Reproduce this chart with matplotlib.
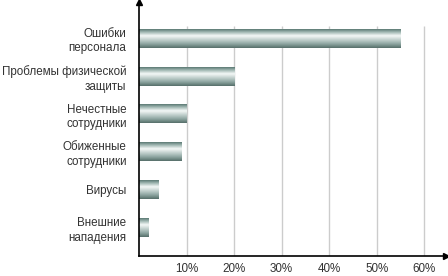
import numpy as np
import matplotlib
matplotlib.use("Agg")
import matplotlib.pyplot as plt
from matplotlib.colors import LinearSegmentedColormap

# данные (сверху вниз)
categories = ["Ошибки\nперсонала", "Проблемы физической\nзащиты", "Нечестные\nсотрудники",
              "Обиженные\nсотрудники", "Вирусы", "Внешние\nнападения"]
values = [55, 20, 10, 9, 4, 2]
ticks = [10, 20, 30, 40, 50, 60]
tick_labels = ["10%", "20%", "30%", "40%", "50%", "60%"]

plt.rcParams['font.family'] = ['Liberation Sans', 'DejaVu Sans']

fig = plt.figure(figsize=(4.48, 2.76), dpi=100)
ax = fig.add_axes([139 / 448, 20 / 276, 307 / 448, 254 / 276])

n = len(categories)
ypos = np.arange(n)[::-1]

# сетка
ax.vlines(ticks, -0.74, 5.32, color="#cccccc", lw=1.0, zorder=0)

bars = ax.barh(ypos, values, height=0.5, color="none", zorder=2)

# цилиндрическая заливка
cmap = LinearSegmentedColormap.from_list("cyl", [
    (0.0, "#5c7a74"), (0.15, "#9fb6b1"), (0.35, "#f4f8f7"),
    (0.55, "#c6d4d1"), (0.8, "#8aa39e"), (1.0, "#566f6a")])
grad = np.linspace(0, 1, 64).reshape(-1, 1)
for b in bars:
    x0, y0, w, h = b.get_bbox().bounds
    ax.imshow(grad, cmap=cmap, aspect="auto", extent=(x0, x0 + w, y0, y0 + h),
              origin="upper", zorder=3, interpolation="bilinear")

ax.set_xlim(0, 64.6)
ax.set_ylim(-0.74, 5.95)

ax.set_yticks(ypos)
ax.set_yticklabels(categories, fontsize=8.4, color="#333333", ha="right",
                   multialignment="right", linespacing=1.3)
ax.set_xticks(ticks)
ax.set_xticklabels(tick_labels, fontsize=8.4, color="#333333")
ax.tick_params(axis="both", length=0)
ax.tick_params(axis="x", pad=5)
ax.tick_params(axis="y", pad=9)

for s in ["top", "right"]:
    ax.spines[s].set_visible(False)
ax.spines["left"].set_linewidth(1.2)
ax.spines["bottom"].set_linewidth(1.2)
ax.spines["left"].set_zorder(5)

# стрелки осей
ax.plot(1, 0, ">k", ms=5, transform=ax.transAxes, clip_on=False)
ax.plot(0, 1, "^k", ms=5, transform=ax.transAxes, clip_on=False)

fig.savefig("out.png", dpi=100)
